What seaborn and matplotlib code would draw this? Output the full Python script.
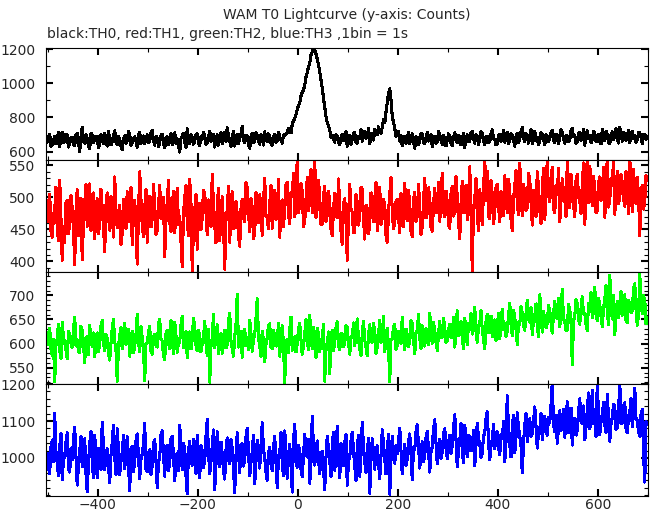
import numpy as np
import matplotlib
matplotlib.use("Agg")
import matplotlib.pyplot as plt
from matplotlib.ticker import MultipleLocator, FixedLocator
import seaborn as sns

# counts every 2.5 s, first point at t = -501 s
T_START = -501
BIN = 2.5

TH0 = [
    655, 690, 702, 631, 640, 668, 688, 645, 671, 712, 629, 684, 715, 652, 660, 703, 694, 627, 648, 679,
    683, 640, 637, 697, 706, 659, 602, 685, 741, 662, 650, 698, 676, 634, 618, 707, 699, 655, 667, 690,
    690, 622, 645, 700, 672, 649, 708, 666, 633, 716, 681, 640, 657, 693, 722, 657, 641, 688, 675, 630,
    610, 676, 693, 648, 664, 718, 700, 637, 652, 679, 687, 660, 626, 701, 712, 646, 669, 692, 645, 683,
    698, 651, 660, 709, 725, 663, 638, 690, 679, 628, 656, 695, 703, 654, 622, 680, 686, 641, 666, 705,
    642, 688, 711, 650, 675, 636, 598, 677, 690, 709, 658, 627, 734, 671, 647, 699, 681, 644, 663, 696,
    705, 653, 636, 689, 672, 713, 694, 642, 651, 686, 720, 661, 668, 702, 627, 675, 699, 638, 684, 710,
    646, 683, 712, 658, 739, 692, 661, 630, 690, 717, 633, 674, 702, 649, 675, 706, 748, 665, 654, 697,
    688, 641, 620, 684, 709, 652, 667, 711, 695, 660, 643, 698, 680, 639, 716, 673, 658, 704, 690, 647,
    637, 682, 701, 656, 666, 715, 684, 670, 650, 698, 693, 705,
    712, 736, 728, 710, 758, 781, 795, 818, 846, 870, 884, 925, 948, 962, 990, 1035, 1062, 1095, 1118,
    1165, 1182, 1205, 1196, 1172, 1140, 1110, 1066, 1018, 972, 912, 858, 805, 770, 752, 728, 684, 697, 672,
    655, 701, 688, 652, 640, 679, 702, 664, 668, 715, 631, 683, 694, 642, 676, 708, 712, 657, 649, 690,
    683, 728, 661, 699, 720, 676, 690, 737, 645, 702, 707, 668, 730, 712, 698, 745,
    724, 706, 742, 790, 768, 832, 885, 940, 968, 905, 805, 770, 738, 690, 702, 718,
    660, 693, 634, 671, 690, 647, 676, 712, 648, 680, 705, 656, 620, 688, 682, 640, 668, 707, 699, 651,
    645, 684, 712, 662, 673, 701, 630, 676, 688, 649, 657, 719, 701, 668, 642, 695, 679, 633, 665, 704,
    693, 650, 636, 686, 710, 672, 654, 697, 683, 639, 671, 708, 625, 681, 698, 660, 662, 711, 720, 674,
    650, 699, 687, 643, 674, 717, 706, 661, 639, 688, 691, 652, 658, 703, 728, 675, 670, 640, 646, 694,
    702, 659, 681, 724, 655, 690, 715, 648, 664, 706, 693, 671, 632, 689, 708, 655, 677, 714, 741, 683,
    659, 705, 696, 650, 672, 727, 645, 691, 718, 663, 684, 640, 661, 712, 703, 674, 640, 699, 692, 658,
    675, 711, 726, 668, 654, 703, 699, 645, 683, 730, 712, 679, 648, 696, 690, 657, 668, 721, 735, 686,
    697, 649, 655, 708, 710, 666, 680, 731, 638, 694, 722, 677, 693, 652, 671, 718, 706, 662, 659, 700,
    688, 645, 730, 697, 664, 719, 702, 655, 648, 701, 716, 672, 690, 733, 676, 650, 742, 704, 661, 713,
    700, 667, 684, 726, 652, 693, 721, 678, 695, 654, 669, 710, 711, 686, 647, 698, 703, 671, 688,
]

TH1 = [
    462, 489, 505, 447, 438, 472, 480, 516, 451, 433, 527, 468, 402, 455, 429, 491, 496, 444, 458, 503,
    484, 450, 395, 478, 512, 441, 467, 499, 403, 461, 490, 520, 455, 476, 521, 448, 474, 507, 436, 482,
    498, 443, 460, 513, 482, 456, 415, 487, 507, 470, 449, 501, 476, 438, 532, 481, 453, 466, 488, 427,
    444, 497, 471, 452, 509, 478, 462, 515, 426, 488, 495, 459, 396, 474, 540, 496, 457, 439, 483, 512,
    430, 476, 502, 454, 466, 520, 489, 442, 448, 485, 519, 467, 472, 500, 408, 463, 493, 526, 461, 447,
    486, 509, 445, 480, 514, 458, 470, 431, 392, 474, 499, 518, 463, 441, 528, 490, 386, 452, 479, 505,
    419, 468, 491, 450, 468, 511, 506, 477, 442, 496, 475, 455, 536, 487, 458, 429, 487, 514, 433, 471,
    501, 460, 388, 465, 480, 517, 430, 486, 509, 451, 455, 494, 473, 439, 424, 482, 497, 470, 462, 523,
    515, 478, 447, 498, 484, 436, 445, 507, 476, 461, 504, 483, 441, 492, 530, 472, 468, 451, 490, 519,
    452, 497, 511, 466, 473, 528, 438, 489, 496, 455, 481, 519, 524, 473, 459, 508, 502, 537, 470, 493,
    562, 476, 488, 521, 509, 455, 462, 498, 531, 480, 494, 544, 476, 512, 560, 469, 483, 527, 499, 458,
    458, 503, 517, 463, 472, 509, 491, 450, 440, 482, 506, 471, 468, 529, 485, 447, 427, 490, 498, 462,
    402, 468, 520, 481, 477, 445, 446, 505, 493, 457, 470, 516, 512, 466, 435, 488, 482, 443, 459, 507,
    501, 462, 474, 523, 448, 490, 516, 458, 467, 497, 489, 441, 430, 476, 505, 531, 478, 451, 460, 494,
    497, 471, 445, 506, 483, 455, 522, 478, 464, 511, 490, 447, 439, 496, 508, 463, 471, 520, 486, 442,
    455, 492, 530, 468, 476, 515, 499, 453, 447, 488, 514, 476, 482, 524, 463, 497, 538, 480, 470, 510,
    493, 458, 452, 506, 517, 471, 479, 532, 501, 462, 436, 489, 525, 477, 484, 519, 465, 500, 548, 474,
    386, 482, 497, 530, 473, 448, 512, 486, 458, 509, 561, 495, 541, 470, 467, 526, 503, 459, 478, 515,
    521, 487, 462, 509, 495, 472, 534, 501, 476, 528, 509, 466, 448, 497, 517, 542, 490, 473, 553, 506,
    472, 520, 506, 480, 485, 537, 528, 493, 457, 511, 499, 470, 540, 515, 481, 459, 512, 545, 466, 502,
    560, 508, 493, 531, 547, 482, 476, 519, 505, 545, 462, 496, 529, 507, 498, 470, 557, 521, 484, 536,
    511, 489, 470, 527, 536, 501, 495, 475, 521, 554, 458, 510, 563, 492, 549, 518, 487, 533, 515, 476,
    480, 522, 532, 495, 506, 547, 469, 513, 562, 485, 497, 530, 518, 561, 474, 509, 541, 490, 500, 536,
    523, 498, 486, 540, 512, 475, 561, 519, 478, 544, 507, 490, 531, 503, 440, 512, 519, 482, 495, 534, 527,
]

TH2 = [
    598, 617, 632, 590, 575, 609, 521, 596, 611, 640, 587, 570, 644, 611, 603, 586, 569, 626, 620, 601,
    592, 629, 655, 597, 608, 584, 581, 636, 627, 599, 560, 612, 614, 578, 638, 605, 594, 622, 573, 608,
    622, 584, 599, 637, 648, 603, 585, 619, 610, 579, 566, 601, 631, 650, 604, 588, 522, 595, 617, 633,
    589, 611, 642, 598, 607, 630, 574, 606, 625, 581, 596, 618, 661, 604, 583, 635, 612, 590, 524, 600,
    601, 623, 636, 585, 578, 614, 619, 597, 593, 640, 650, 609, 606, 576, 567, 621, 628, 603, 590, 647,
    613, 579, 644, 616, 582, 602, 603, 638, 657, 592, 596, 625, 571, 604, 624, 589, 608, 652, 635, 598,
    585, 627, 618, 583, 599, 612, 646, 601, 575, 630, 520, 594, 611, 660, 592, 617, 639, 580, 604, 621,
    580, 613, 627, 591, 598, 645, 663, 606, 589, 574, 615, 639, 702, 593, 601, 626, 572, 610, 630, 596,
    606, 587, 648, 620, 584, 608, 619, 652, 693, 611, 595, 574, 626, 605, 563, 598, 612, 637, 641, 592,
    590, 628, 617, 595, 603, 642, 574, 611, 637, 597, 519, 603, 609, 581, 628, 655, 586, 604, 614, 583,
    599, 630, 642, 607, 578, 596, 621, 649, 605, 588, 658, 613, 590, 634, 616, 572, 632, 619, 583, 608,
    611, 640, 522, 599, 596, 624, 538, 610, 627, 585, 604, 633, 645, 598, 587, 621, 619, 594, 601, 637,
    634, 602, 578, 615, 612, 643, 596, 625, 651, 608, 589, 576, 620, 646, 607, 593, 575, 618, 639, 604,
    603, 641, 626, 580, 592, 617, 648, 603, 614, 657, 584, 612, 631, 596, 521, 609, 609, 634, 640, 588,
    596, 625, 622, 601, 655, 613, 588, 630, 617, 594, 604, 648, 642, 608, 579, 622, 628, 660, 611, 590,
    637, 609, 595, 631, 620, 598, 663, 625, 601, 644, 627, 604, 586, 619, 646, 612, 614, 652, 632, 603,
    605, 628, 640, 612, 619, 655, 593, 631, 668, 617, 624, 646, 611, 590, 652, 627, 598, 641, 635, 662,
    620, 648, 675, 626, 603, 637, 641, 668, 628, 610, 589, 645, 660, 623, 632, 657, 614, 641, 649, 606,
    636, 662, 610, 645, 671, 629, 642, 615, 625, 658, 684, 640, 617, 669, 653, 631, 598, 644, 640, 677,
    663, 637, 628, 661, 690, 652, 644, 675, 619, 648, 657, 682, 636, 615, 701, 659, 624, 667, 650, 633,
    641, 679, 667, 645, 622, 660, 688, 655, 652, 694, 635, 668, 712, 650, 646, 627, 629, 681, 670, 643,
    557, 646, 658, 691, 683, 652, 640, 673, 697, 661, 663, 639, 627, 684, 675, 706, 654, 672, 716, 660,
    648, 693, 680, 657, 635, 674, 692, 721, 665, 640, 742, 676, 651, 699, 619, 662, 687, 654, 670, 708,
    659, 683, 701, 648, 643, 689, 682, 664, 668, 713, 724, 671, 638, 660, 744, 685, 662, 699, 690, 641, 655,
]

TH3 = [
    1012, 976, 958, 1031, 1047, 990, 1121, 1018, 985, 952, 1030, 1066, 941, 998, 1004, 1042, 1068, 971, 962, 1025,
    995, 1049, 1083, 1003, 927, 981, 1019, 1057, 976, 1014, 1052, 960, 909, 986, 1038, 1072, 990, 948, 1061, 1001,
    947, 1026, 1008, 969, 1097, 1035, 968, 1011, 1025, 978, 934, 1006, 1042, 1089, 1003, 956, 1079, 1020, 955, 992,
    1016, 1060, 972, 1008, 1057, 983, 912, 1024, 1031, 964, 989, 1046, 1065, 1002, 944, 997, 1010, 1037, 1093, 970,
    963, 1014, 1022, 956, 978, 1041, 1049, 993, 920, 988, 1002, 1063, 1074, 1010, 951, 1029, 1035, 967, 986, 1053,
    1058, 1007, 939, 997, 1013, 965, 1088, 1025, 968, 1039, 1027, 954, 903, 1017, 1045, 988, 981, 1050, 1006, 959,
    1062, 1001, 947, 1034, 1020, 974, 993, 1058, 1104, 1015, 958, 990, 1033, 1076, 915, 982, 1071, 1009, 977, 1043,
    1011, 968, 943, 1022, 1054, 996, 985, 1049, 1026, 970, 906, 1005, 1068, 1013, 960, 1031, 1039, 978, 997, 1056,
    1081, 1019, 952, 989, 1017, 1062, 931, 994, 1048, 1007, 973, 1036, 1095, 1021, 1002, 961, 940, 1012, 1029, 983,
    966, 1027, 1058, 991, 919, 1004, 1013, 1069, 987, 952, 1073, 1018, 945, 1000, 1036, 979, 908, 1044, 1091, 996,
    975, 1033, 1021, 969, 950, 1008, 1064, 1016, 1003, 1051, 932, 990, 1112, 1030, 981, 1024, 1046, 995, 958, 1012,
    1018, 972, 915, 1003, 1059, 1026, 992, 951, 1034, 1070, 967, 1011, 1085, 1000, 946, 1038, 1009, 980, 1041, 1064,
    926, 993, 1002, 1047, 1070, 1019, 979, 940, 1028, 1061, 951, 1007, 1097, 1030, 988, 960, 1015, 1052, 905, 997,
    1052, 1014, 970, 1025, 1033, 989, 944, 1006, 1076, 1039, 998, 957, 1021, 1063, 902, 995, 1058, 1017, 986, 1034,
    1012, 1048, 1081, 1020, 957, 1002, 1037, 980, 996, 1043, 1065, 1011, 941, 1029, 1024, 1071, 1090, 1036, 973, 1009,
    1044, 990, 1008, 1055, 1072, 1023, 962, 1017, 1029, 1078, 1103, 1040, 985, 1036, 1051, 999, 1016, 1067, 1079, 1028,
    998, 1041, 1062, 1013, 1034, 1082, 1117, 1050, 976, 1022, 1045, 1093, 1020, 987, 1088, 1046, 1003, 1061, 1057, 1019,
    1031, 1074, 979, 1037, 1094, 1052, 1040, 1002, 1012, 1059, 1068, 1107, 1125, 1043, 995, 1033, 1049, 1090, 1026, 1066,
    1071, 1030, 1009, 1064, 1052, 1098, 990, 1045, 1168, 1076, 1037, 1003, 1083, 1115, 1014, 1058, 1122, 1081, 1060, 1032,
    960, 1041, 1089, 1120, 1045, 1078, 1106, 1059, 1066, 1097, 1138, 1086, 1027, 1070, 1075, 1119, 1050, 1093, 1113, 1068,
    1062, 1110, 1097, 1143, 1205, 1089, 1071, 1116, 1040, 1085, 1128, 1074, 1083, 1131, 1056, 1101, 1152, 1068, 1090, 1135,
    1035, 1087, 1108, 1062, 1074, 1126, 1160, 1099, 1092, 1141, 1049, 1083, 1131, 1176, 1079, 1112, 1183, 1094, 1101, 1058,
    1205, 1114, 1063, 1098, 1117, 1151, 1088, 1070, 1172, 1106, 1045, 1092, 1109, 1146, 1137, 1077, 1082, 1125, 1204, 1093,
    1096, 1139, 1150, 1081, 1068, 1112, 1123, 1160, 1085, 1121, 1188, 1104, 1101, 1072, 1059, 1117, 1132, 1010, 935, 1098, 1095,
]

COLORS = ["black", "#ff0000", "#00ff00", "#0000ff"]
YLIMS = [(553, 1208), (384, 559), (517, 749), (898, 1201)]
YTICKS = [[600, 800, 1000, 1200], [400, 450, 500, 550],
          [550, 600, 650, 700], [1000, 1100, 1200]]
YMINOR = [100, 10, 10, 20]

sns.set_style("ticks")
plt.rcParams["font.family"] = ["DejaVu Sans"]
plt.rcParams["font.size"] = 10

fig, axes = plt.subplots(4, 1, figsize=(6.52, 5.15), dpi=100, sharex=True)
fig.subplots_adjust(left=0.0701, right=0.9943, top=0.9074, bottom=0.0375, hspace=0)

for ax, vals, col, ylim, yt, ym in zip(axes, [TH0, TH1, TH2, TH3], COLORS,
                                       YLIMS, YTICKS, YMINOR):
    t = T_START + BIN * np.arange(len(vals))
    sns.lineplot(x=t, y=vals, ax=ax, color=col, lw=1.5, antialiased=False,
                 estimator=None, sort=False)
    ax.set_ylim(*ylim)
    ax.yaxis.set_major_locator(FixedLocator(yt))
    ax.yaxis.set_minor_locator(MultipleLocator(ym))
    ax.xaxis.set_major_locator(MultipleLocator(200))
    ax.xaxis.set_minor_locator(MultipleLocator(100))
    ax.tick_params(which="both", direction="in", top=True, right=True,
                   color="black", labelsize=10)
    ax.tick_params(which="major", length=5, width=1.5)
    ax.tick_params(which="minor", length=3, width=0.8)
    ax.tick_params(axis="y", pad=7.5)
    ax.tick_params(axis="x", pad=2)
    for s in ax.spines.values():
        s.set_linewidth(0.8)
        s.set_color("black")
    ax.set_xlabel("")
    ax.set_ylabel("")

axes[-1].set_xlim(-504, 701)

fig.text(0.532, 0.963, "WAM T0 Lightcurve (y-axis: Counts)", ha="center",
         va="baseline", fontsize=10)
fig.text(0.0716, 0.9256, "black:TH0, red:TH1, green:TH2, blue:TH3 ,1bin = 1s",
         ha="left", va="baseline", fontsize=10)

fig.savefig("out.png", dpi=100)
